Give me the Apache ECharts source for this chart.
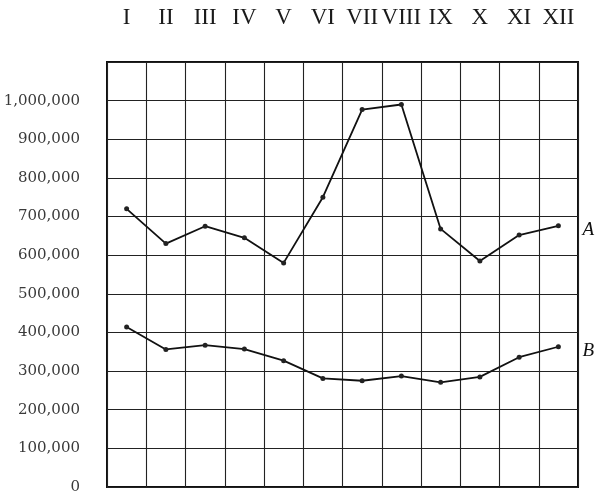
<!DOCTYPE html>
<html lang="en">
<head>
    <meta charset="UTF-8">
    <title>A / B by month</title>
    <script src="https://cdn.jsdelivr.net/npm/echarts@6/dist/echarts.min.js"></script>
    <style>
        html, body {
            margin: 0;
            padding: 0;
            background: #fff;
        }

        #main {
            width: 600px;
            height: 497px;
        }
    </style>
</head>
<body>
<div id="main"></div>

<script type="text/javascript">
    // months along the top
    var months = ['I', 'II', 'III', 'IV', 'V', 'VI', 'VII', 'VIII', 'IX', 'X', 'XI', 'XII'];
    // upper curve A
    var seriesA = [720000, 630000, 675000, 645000, 580000, 750000, 977000, 990000, 668000, 585000, 652000, 676000];
    // lower curve B
    var seriesB = [414000, 356000, 367000, 357000, 327000, 281000, 275000, 287000, 271000, 285000, 336000, 363000];
    // value axis
    var yMax = 1100000;
    var yStep = 100000;

    function fmt(v) {
        if (v >= yMax) return '';
        return String(v).replace(/\B(?=(\d{3})+(?!\d))/g, ',');
    }

    var myChart = echarts.init(document.getElementById('main'));

    var lineStyle = {color: '#111', width: 1.8};
    var endLbl = {
        show: true,
        fontFamily: 'Liberation Serif',
        fontStyle: 'italic',
        fontSize: 19,
        color: '#111',
        distance: 24,
        offset: [0, 4]
    };

    var option = {
        animation: false,
        backgroundColor: '#fff',
        grid: {
            left: 107,
            right: 22,
            top: 62,
            bottom: 10,
            show: true,
            borderColor: '#111',
            borderWidth: 2
        },
        xAxis: {
            type: 'category',
            position: 'top',
            data: months,
            boundaryGap: true,
            axisLine: {show: false},
            axisTick: {show: false},
            axisLabel: {
                interval: 0,
                margin: 33,
                fontFamily: 'Liberation Serif',
                fontSize: 23,
                color: '#1a1a1a'
            },
            splitLine: {
                show: true,
                interval: 0,
                lineStyle: {color: '#222', width: 1.1}
            }
        },
        yAxis: {
            type: 'value',
            min: 0,
            max: yMax,
            interval: yStep,
            axisLine: {show: false},
            axisTick: {show: false},
            axisLabel: {
                margin: 27,
                fontFamily: 'DejaVu Serif',
                fontSize: 15,
                color: '#3a3a3a',
                formatter: fmt
            },
            splitLine: {
                lineStyle: {color: '#222', width: 1.1}
            }
        },
        series: [{
            name: 'A',
            type: 'line',
            data: seriesA,
            symbol: 'circle',
            symbolSize: 5,
            itemStyle: {color: '#222'},
            lineStyle: lineStyle,
            endLabel: Object.assign({formatter: 'A'}, endLbl)
        }, {
            name: 'B',
            type: 'line',
            data: seriesB,
            symbol: 'circle',
            symbolSize: 5,
            itemStyle: {color: '#222'},
            lineStyle: lineStyle,
            endLabel: Object.assign({formatter: 'B'}, endLbl)
        }]
    };

    myChart.setOption(option);
</script>

</body>
</html>
